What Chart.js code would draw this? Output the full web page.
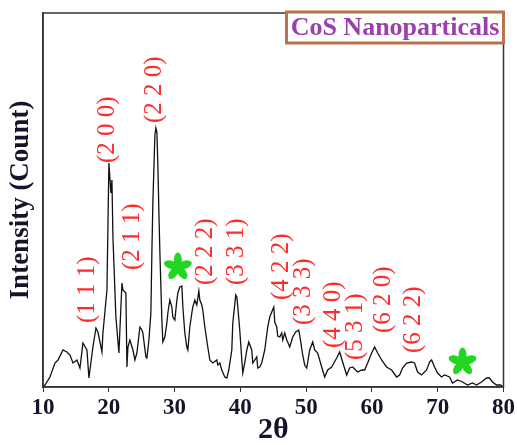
<!DOCTYPE html>
<html lang="en">
<head>
  <meta charset="UTF-8" />
  <title>CoS XRD</title>
  <script src="https://cdn.jsdelivr.net/npm/chart.js"></script>
  <style>
    body {
      margin: 0;
      background: #ffffff;
    }
    .wrap {
      width: 517px;
      height: 445px;
    }
  </style>
</head>
<body>
  <div class="wrap">
    <canvas id="xrd" width="517" height="445"></canvas>
  </div>

  <script>
    // 2theta (deg) and intensity (arb. counts)
    const twoTheta = [10.00, 10.30, 11.06, 11.82, 12.28, 13.04, 13.64, 14.10, 14.56, 15.16,
      15.62, 16.07, 16.68, 16.98, 17.59, 18.05, 18.35, 18.96, 19.11, 19.72,
      19.87, 20.02, 20.32, 20.48, 20.63, 21.08, 21.54, 22.00, 22.15, 22.60,
      22.76, 22.91, 23.21, 23.67, 23.97, 24.27, 24.73, 25.03, 25.18, 25.64,
      25.79, 26.10, 26.40, 26.55, 26.70, 27.01, 27.16, 27.31, 27.46, 27.61,
      27.77, 28.07, 28.22, 28.52, 28.83, 28.98, 29.28, 29.59, 29.74, 30.04,
      30.35, 30.50, 30.80, 31.11, 31.26, 31.56, 31.86, 32.02, 32.32, 32.62,
      32.78, 33.08, 33.38, 33.69, 33.84, 34.14, 34.29, 34.60, 35.05, 35.36,
      35.81, 36.42, 36.57, 36.88, 37.18, 37.63, 37.94, 38.24, 38.70, 38.85,
      39.30, 39.46, 39.61, 39.91, 40.22, 40.37, 40.67, 40.98, 41.28, 41.73,
      41.89, 42.49, 42.65, 42.95, 43.25, 43.71, 44.16, 44.47, 44.77, 45.08,
      45.23, 45.53, 45.68, 45.99, 46.29, 46.44, 46.75, 47.05, 47.20, 47.50,
      47.96, 48.42, 48.87, 49.02, 49.48, 49.78, 50.09, 50.54, 51.00, 51.30,
      51.76, 52.36, 52.82, 53.27, 53.88, 54.64, 55.10, 55.55, 56.16, 56.61,
      57.07, 57.83, 58.44, 58.89, 59.35, 59.96, 60.41, 60.87, 61.47, 62.23,
      62.99, 63.75, 64.21, 64.66, 65.27, 66.03, 66.48, 66.94, 67.55, 68.31,
      68.76, 69.07, 69.52, 69.98, 70.58, 71.04, 71.80, 72.25, 73.01, 73.77,
      74.53, 75.29, 75.90, 76.66, 77.42, 77.87, 78.33, 78.94, 79.54, 80.00];

    const intensity = [0, 2, 10, 24, 27, 37, 35, 32, 24, 27,
      19, 44, 37, 9, 40, 59, 55, 35, 54, 97,
      160, 224, 194, 207, 150, 70, 34, 104, 97, 94,
      20, 40, 47, 37, 27, 34, 60, 57, 54, 30,
      29, 47, 74, 134, 184, 252, 259, 255, 222, 177,
      134, 67, 45, 50, 64, 74, 87, 80, 70, 67,
      87, 94, 100, 101, 80, 54, 40, 37, 60, 74,
      80, 87, 82, 96, 87, 82, 77, 60, 40, 27,
      24, 27, 22, 24, 17, 10, 9, 17, 37, 64,
      92, 90, 80, 57, 27, 14, 24, 37, 45, 37,
      24, 30, 19, 20, 24, 37, 60, 70, 75, 80,
      65, 60, 51, 50, 54, 47, 54, 47, 45, 40,
      50, 55, 57, 52, 32, 22, 19, 37, 45, 37,
      34, 20, 10, 17, 20, 29, 35, 25, 12, 19,
      20, 15, 17, 17, 24, 34, 40, 34, 27, 20,
      17, 10, 12, 19, 24, 25, 24, 15, 12, 17,
      25, 27, 20, 14, 10, 12, 10, 4, 7, 5,
      2, 4, 2, 5, 9, 9, 5, 2, 2, 0];

    // Miller index labels: anchor = (2theta, intensity) where the rotated text starts
    const hklLabels = ['(1 1 1)', '(2 0 0)', '(2 1 1)', '(2 2 0)', '(2 2 2)', '(3 3 1)',
      '(4 2 2)', '(3 3 3)', '(4 4 0)', '(5 3 1)', '(6 2 0)', '(6 2 2)'];
    const hklX = [16.68, 19.87, 23.59, 27.01, 34.75, 39.46, 46.29, 49.63, 54.19, 57.45, 61.78, 66.33];
    const hklY = [64, 224, 117, 264, 102, 102, 87, 62, 39, 27, 54, 34];

    // impurity markers
    const starX = [30.5, 73.77];
    const starY = [120, 25];

    const xTicks = [10, 20, 30, 40, 50, 60, 70, 80];

    const serif = '"Liberation Serif", "Times New Roman", serif';

    const overlay = {
      id: 'overlay',
      afterDatasetsDraw(chart) {
        const { ctx, chartArea: a, scales: { x, y } } = chart;
        ctx.save();

        // plot frame
        ctx.strokeStyle = '#333';
        ctx.lineWidth = 1.5;
        ctx.strokeRect(a.left, a.top, a.right - a.left, a.bottom - a.top);

        // hkl labels, rotated
        ctx.fillStyle = '#ff2a2a';
        ctx.font = '25px ' + serif;
        ctx.textAlign = 'left';
        ctx.textBaseline = 'middle';
        hklLabels.forEach((t, i) => {
          ctx.save();
          ctx.translate(x.getPixelForValue(hklX[i]), y.getPixelForValue(hklY[i]));
          ctx.rotate(-Math.PI / 2);
          ctx.fillText(t, 0, 0);
          ctx.restore();
        });

        // green asterisks
        ctx.fillStyle = '#22d622';
        starX.forEach((sx, i) => {
          const cx = x.getPixelForValue(sx);
          const cy = y.getPixelForValue(starY[i]);
          for (let k = 0; k < 5; k++) {
            const ang = -Math.PI / 2 + k * 2 * Math.PI / 5;
            ctx.beginPath();
            ctx.ellipse(cx + 7 * Math.cos(ang), cy + 7 * Math.sin(ang), 7.5, 4, ang, 0, 2 * Math.PI);
            ctx.fill();
          }
        });

        // sample name box
        const bw = 217, bh = 31;
        const bx = a.right - bw, by = a.top - 1;
        ctx.fillStyle = '#fff';
        ctx.fillRect(bx, by, bw, bh);
        ctx.strokeStyle = '#b8734f';
        ctx.lineWidth = 3;
        ctx.strokeRect(bx, by, bw, bh);
        ctx.fillStyle = '#9c3fae';
        ctx.font = 'bold 26px ' + serif;
        ctx.textAlign = 'center';
        ctx.textBaseline = 'middle';
        ctx.fillText('CoS Nanoparticals', bx + bw / 2, by + bh / 2 + 1);

        ctx.restore();
      }
    };

    new Chart(document.getElementById('xrd'), {
      type: 'line',
      data: {
        labels: twoTheta,
        datasets: [{
          data: twoTheta.map((t, i) => ({ x: t, y: intensity[i] })),
          borderColor: '#111',
          borderWidth: 1.3,
          pointRadius: 0,
          tension: 0,
          fill: false
        }]
      },
      options: {
        responsive: false,
        animation: false,
        layout: { padding: { top: 13, right: 13, left: 0, bottom: 0 } },
        plugins: {
          legend: { display: false },
          tooltip: { enabled: false }
        },
        scales: {
          x: {
            type: 'linear',
            min: 10,
            max: 80,
            afterBuildTicks: scale => {
              scale.ticks = xTicks.map(v => ({ value: v }));
            },
            afterFit: scale => { scale.height = 58; },
            grid: {
              display: true,
              drawOnChartArea: false,
              drawTicks: true,
              tickLength: 5,
              color: '#333'
            },
            border: { display: true, color: '#333', width: 1.5 },
            ticks: {
              color: '#14142a',
              padding: 2,
              maxRotation: 0,
              font: { family: serif, size: 23, weight: 'bold' }
            },
            title: {
              display: true,
              text: '2θ',
              color: '#14142a',
              padding: { top: 0, bottom: 0 },
              font: { family: serif, size: 30, weight: 'bold', lineHeight: 1 }
            }
          },
          y: {
            min: 0,
            max: 374,
            afterFit: scale => { scale.width = 43; },
            grid: { display: false },
            border: { display: true, color: '#333', width: 1.5 },
            ticks: { display: false },
            title: {
              display: true,
              text: 'Intensity (Count)',
              color: '#14142a',
              padding: { top: 5, bottom: 0 },
              font: { family: serif, size: 27, weight: 'bold' }
            }
          }
        }
      },
      plugins: [overlay]
    });
  </script>
</body>
</html>
